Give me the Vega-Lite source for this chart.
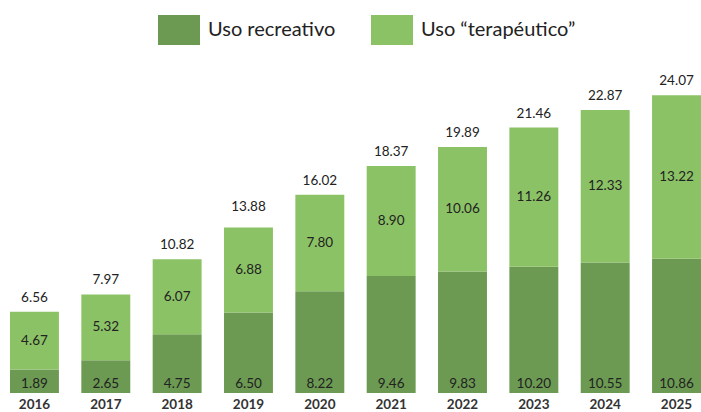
{
  "$schema": "https://vega.github.io/schema/vega-lite/v6.json",
  "width": 701,
  "height": 393,
  "padding": {"left": 0, "top": 0, "right": 0, "bottom": 19},
  "autosize": {"type": "none"},
  "background": "white",
  "config": {"view": {"stroke": null}, "font": "Lato"},
  "datasets": {
    "seg": [
      {"year": "2016", "type": "Uso recreativo", "value": 1.89},
      {"year": "2016", "type": "Uso “terapéutico”", "value": 4.67},
      {"year": "2017", "type": "Uso recreativo", "value": 2.65},
      {"year": "2017", "type": "Uso “terapéutico”", "value": 5.32},
      {"year": "2018", "type": "Uso recreativo", "value": 4.75},
      {"year": "2018", "type": "Uso “terapéutico”", "value": 6.07},
      {"year": "2019", "type": "Uso recreativo", "value": 6.50},
      {"year": "2019", "type": "Uso “terapéutico”", "value": 6.88},
      {"year": "2020", "type": "Uso recreativo", "value": 8.22},
      {"year": "2020", "type": "Uso “terapéutico”", "value": 7.80},
      {"year": "2021", "type": "Uso recreativo", "value": 9.46},
      {"year": "2021", "type": "Uso “terapéutico”", "value": 8.90},
      {"year": "2022", "type": "Uso recreativo", "value": 9.83},
      {"year": "2022", "type": "Uso “terapéutico”", "value": 10.06},
      {"year": "2023", "type": "Uso recreativo", "value": 10.20},
      {"year": "2023", "type": "Uso “terapéutico”", "value": 11.26},
      {"year": "2024", "type": "Uso recreativo", "value": 10.55},
      {"year": "2024", "type": "Uso “terapéutico”", "value": 12.33},
      {"year": "2025", "type": "Uso recreativo", "value": 10.86},
      {"year": "2025", "type": "Uso “terapéutico”", "value": 13.22}
    ],
    "tot": [
      {"year": "2016", "total": 6.56},
      {"year": "2017", "total": 7.97},
      {"year": "2018", "total": 10.82},
      {"year": "2019", "total": 13.88},
      {"year": "2020", "total": 16.02},
      {"year": "2021", "total": 18.37},
      {"year": "2022", "total": 19.89},
      {"year": "2023", "total": 21.46},
      {"year": "2024", "total": 22.87},
      {"year": "2025", "total": 24.07}
    ]
  },
  "layer": [
    {
      "data": {"name": "seg"},
      "mark": {"type": "bar"},
      "encoding": {
        "x": {
          "field": "year", "type": "ordinal",
          "scale": {"paddingInner": 0.314, "paddingOuter": 0.07, "align": 1},
          "axis": {"title": null, "domain": false, "ticks": false, "labelAngle": 0, "labelFontSize": 13.5, "labelColor": "#333333", "labelFontWeight": "bold", "labelPadding": 4}
        },
        "y": {
          "field": "value", "type": "quantitative", "stack": "zero",
          "scale": {"domain": [0, 31.77], "nice": false, "zero": true},
          "axis": null
        },
        "color": {
          "field": "type", "type": "nominal",
          "scale": {"domain": ["Uso recreativo", "Uso “terapéutico”"], "range": ["#6c9a52", "#8cc266"]},
          "legend": {
            "title": null, "orient": "none", "legendX": 158, "legendY": 9,
            "direction": "horizontal",
            "symbolType": "M-1,-0.714H1V0.714H-1Z", "symbolSize": 1764,
            "symbolStrokeWidth": 0, "symbolOpacity": 1,
            "labelFontSize": 20, "labelColor": "#222222", "labelOffset": 8,
            "columnPadding": 35, "labelLimit": 300, "padding": 0
          }
        },
        "order": {"field": "type", "sort": "ascending"}
      }
    },
    {
      "data": {"name": "seg"},
      "transform": [
        {"stack": "value", "groupby": ["year"], "sort": [{"field": "type", "order": "ascending"}], "as": ["v0", "v1"]},
        {"filter": "datum.type === 'Uso “terapéutico”'"},
        {"fold": ["v0", "v1"], "as": ["k", "pos"]}
      ],
      "mark": {"type": "text", "fontSize": 13.5, "color": "#222222", "baseline": "middle"},
      "encoding": {
        "x": {"field": "year", "type": "ordinal"},
        "y": {"aggregate": "mean", "field": "pos", "type": "quantitative"},
        "text": {"field": "value", "type": "quantitative", "format": ".2f"}
      }
    },
    {
      "data": {"name": "seg"},
      "transform": [{"filter": "datum.type === 'Uso recreativo'"}],
      "mark": {"type": "text", "fontSize": 13.5, "color": "#222222", "baseline": "middle", "dy": -9},
      "encoding": {
        "x": {"field": "year", "type": "ordinal"},
        "y": {"datum": 0, "type": "quantitative"},
        "text": {"field": "value", "type": "quantitative", "format": ".2f"}
      }
    },
    {
      "data": {"name": "tot"},
      "mark": {"type": "text", "fontSize": 13.5, "color": "#222222", "baseline": "middle", "dy": -14},
      "encoding": {
        "x": {"field": "year", "type": "ordinal"},
        "y": {"field": "total", "type": "quantitative"},
        "text": {"field": "total", "type": "quantitative", "format": ".2f"}
      }
    }
  ]
}
